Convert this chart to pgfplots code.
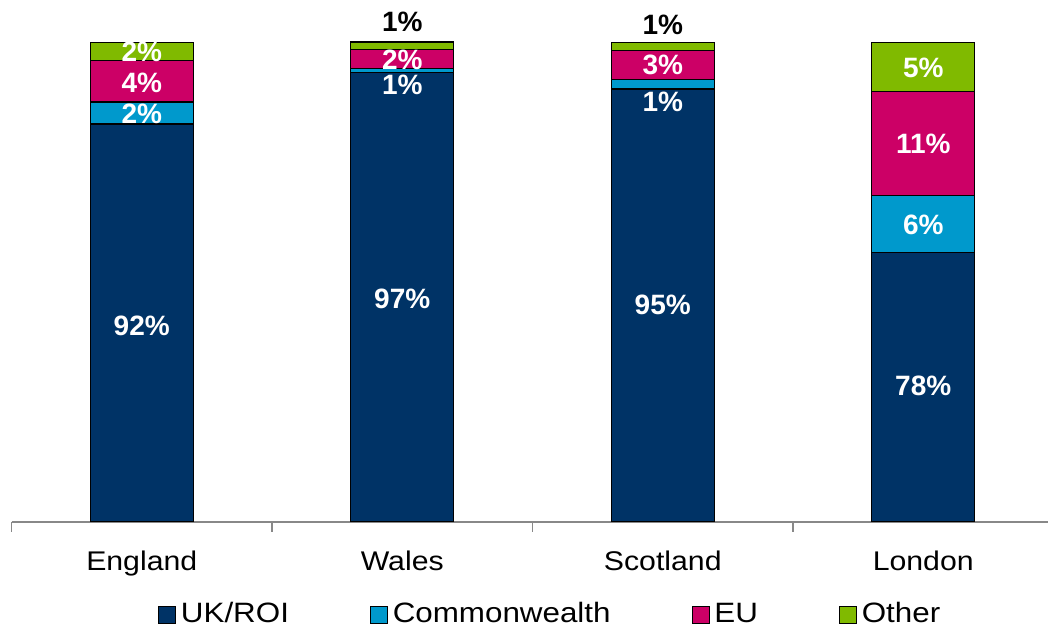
\documentclass[border=0pt]{standalone}
\usepackage{fontspec}
\setmainfont{Liberation Sans}
\newfontfamily\widefont{Liberation Sans}[FakeStretch=1.12]
\usepackage{pgfplots}
\usepackage{pgfplotstable}
\pgfplotsset{compat=1.18}
\definecolor{cNavy}{RGB}{0,51,102}
\definecolor{cBlue}{RGB}{0,153,204}
\definecolor{cPink}{RGB}{204,0,102}
\definecolor{cGreen}{RGB}{128,186,0}
\definecolor{cAxis}{RGB}{136,136,136}

\pgfplotstableread{
x y
0 91.46
1 96.8
2 95.1
3 78.05
}\ukroi
\pgfplotstableread{
x y
0 2.3
1 0.45
2 1.0
3 6.0
}\commonw
\pgfplotstableread{
x y
0 4.3
1 1.95
2 3.0
3 10.8
}\eu
\pgfplotstableread{
x y
0 1.9
1 0.8
2 0.85
3 5.1
}\other

\tikzset{lbl/.style={font=\fontsize{28}{30}\selectfont\bfseries, text=white, inner sep=0pt}}
\pgfplotsset{sqleg/.style={legend image code/.code={\draw[##1, draw=black, line width=0.8pt] (0pt,-8.5pt) rectangle (17pt,8.5pt);}}}

\begin{document}
\begin{tikzpicture}
\begin{axis}[
  scale only axis, width=1036.5pt, height=481.4pt,
  xmin=-0.5, xmax=3.479, ymin=50, ymax=100.15,
  ybar stacked, bar width=103pt,
  axis y line=none, axis x line*=bottom,
  axis line style={draw=cAxis, line width=1.5pt, -},
  xtick={0,1,2,3}, xticklabels={England,Wales,Scotland,London},
  major tick length=0pt,
  minor xtick={-0.5,0.5,1.5,2.5,3.5},
  minor tick length=10pt, tick align=outside,
  tick style={draw=cAxis, line width=1.5pt},
  xticklabel style={font=\widefont\fontsize{27}{30}\selectfont, anchor=base, yshift=-48pt},
  clip mode=individual,
  legend columns=4,
  legend style={draw=none, fill=none, inner sep=0pt,
    at={(axis description cs:0.1413,-0.1935)}, anchor=west,
    font=\widefont\fontsize{28}{30}\selectfont,
    nodes={inner sep=3pt, text height=20pt, text depth=6pt},
    /tikz/every odd column/.append style={column sep=2pt},
    /tikz/every even column/.append style={column sep=78pt}},
]
\addplot[fill=cNavy, draw=black, line width=1.2pt, sqleg] table {\ukroi};
\addplot[fill=cBlue, draw=black, line width=1.2pt, sqleg] table {\commonw};
\addplot[fill=cPink, draw=black, line width=1.2pt, sqleg] table {\eu};
\addplot[fill=cGreen, draw=black, line width=1.2pt, sqleg] table {\other};
\legend{UK/ROI,Commonwealth,EU,Other}

\coordinate (e1) at (axis cs:0,70.42);
\coordinate (e2) at (axis cs:0,92.53);
\coordinate (e3) at (axis cs:0,95.76);
\coordinate (e4) at (axis cs:0,98.96);
\coordinate (w1) at (axis cs:1,73.23);
\coordinate (w2) at (axis cs:1,95.49);
\coordinate (w3) at (axis cs:1,98.13);
\coordinate (w4) at (axis cs:1,102.08);
\coordinate (s1) at (axis cs:2,72.6);
\coordinate (s2) at (axis cs:2,93.73);
\coordinate (s3) at (axis cs:2,97.57);
\coordinate (s4) at (axis cs:2,101.74);
\coordinate (l1) at (axis cs:3,64.17);
\coordinate (l2) at (axis cs:3,80.94);
\coordinate (l3) at (axis cs:3,89.43);
\coordinate (l4) at (axis cs:3,97.29);
\end{axis}
\node[lbl] at (e1) {92\%};
\node[lbl] at (e2) {2\%};
\node[lbl] at (e3) {4\%};
\node[lbl] at (e4) {2\%};
\node[lbl] at (w1) {97\%};
\node[lbl] at (w2) {1\%};
\node[lbl] at (w3) {2\%};
\node[lbl, text=black] at (w4) {1\%};
\node[lbl] at (s1) {95\%};
\node[lbl] at (s2) {1\%};
\node[lbl] at (s3) {3\%};
\node[lbl, text=black] at (s4) {1\%};
\node[lbl] at (l1) {78\%};
\node[lbl] at (l2) {6\%};
\node[lbl] at (l3) {11\%};
\node[lbl] at (l4) {5\%};
\pgfresetboundingbox
\path (-11.5pt,-106pt) rectangle (1036.5pt,522pt);
\end{tikzpicture}
\end{document}
